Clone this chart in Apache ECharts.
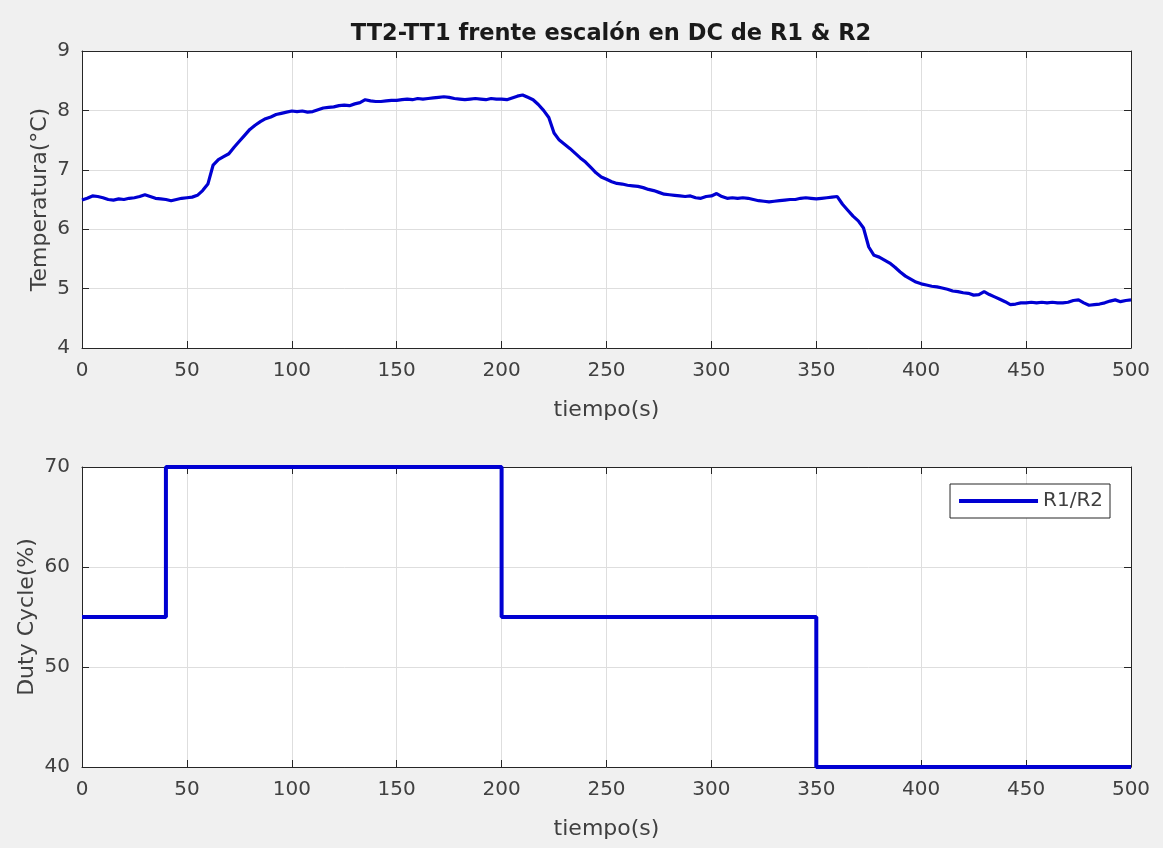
<!DOCTYPE html>
<html>
<head>
<meta charset="utf-8">
<script src="https://cdn.jsdelivr.net/npm/echarts@6/dist/echarts.min.js"></script>
<style>
  html, body { margin: 0; padding: 0; background: #f0f0f0; }
  #chart { width: 1163px; height: 848px; }
</style>
</head>
<body>
<div id="chart"></div>
<script>
// TT2-TT1 temperature difference, sampled every 2.5 s from 0 to 500 s
const pasoMuestreo = 2.5;
const tt2tt1 = [
  6.49, 6.52, 6.56, 6.55, 6.53, 6.50, 6.49, 6.51, 6.50, 6.52,
  6.53, 6.55, 6.58, 6.55, 6.52, 6.51, 6.50, 6.48, 6.50, 6.52,
  6.53, 6.54, 6.57, 6.65, 6.76, 7.08, 7.17, 7.22, 7.27, 7.38,
  7.48, 7.58, 7.68, 7.75, 7.81, 7.86, 7.89, 7.93, 7.95, 7.97,
  7.99, 7.98, 7.99, 7.97, 7.98, 8.01, 8.04, 8.05, 8.06, 8.08,
  8.09, 8.08, 8.11, 8.13, 8.18, 8.16, 8.15, 8.15, 8.16, 8.17,
  8.17, 8.18, 8.19, 8.18, 8.20, 8.19, 8.20, 8.21, 8.22, 8.23,
  8.22, 8.20, 8.19, 8.18, 8.19, 8.20, 8.19, 8.18, 8.20, 8.19,
  8.19, 8.18, 8.21, 8.24, 8.26, 8.22, 8.18, 8.10, 8.00, 7.88,
  7.62, 7.50, 7.43, 7.36, 7.28, 7.20, 7.13, 7.04, 6.95, 6.88,
  6.84, 6.80, 6.77, 6.76, 6.74, 6.73, 6.72, 6.70, 6.67, 6.65,
  6.62, 6.59, 6.58, 6.57, 6.56, 6.55, 6.56, 6.53, 6.52, 6.55,
  6.56, 6.60, 6.55, 6.52, 6.53, 6.52, 6.53, 6.52, 6.50, 6.48,
  6.47, 6.46, 6.47, 6.48, 6.49, 6.50, 6.50, 6.52, 6.53, 6.52,
  6.51, 6.52, 6.53, 6.54, 6.55, 6.42, 6.32, 6.22, 6.14, 6.02,
  5.70, 5.56, 5.53, 5.48, 5.43, 5.36, 5.28, 5.21, 5.16, 5.11,
  5.08, 5.06, 5.04, 5.03, 5.01, 4.99, 4.96, 4.95, 4.93, 4.92,
  4.89, 4.90, 4.95, 4.90, 4.86, 4.82, 4.78, 4.73, 4.74, 4.76,
  4.76, 4.77, 4.76, 4.77, 4.76, 4.77, 4.76, 4.76, 4.77, 4.80,
  4.81, 4.76, 4.72, 4.73, 4.74, 4.76, 4.79, 4.81, 4.78, 4.80,
  4.81
];

// Duty cycle steps applied to R1 & R2: change times (s) and the level (%) held from each
const cambiosDC = [0, 40, 200, 350, 500];
const nivelesDC = [55, 70, 55, 40, 40];

const serieTemp = tt2tt1.map((v, i) => [i * pasoMuestreo, v]);
const serieDC = cambiosDC.map((t, i) => [t, nivelesDC[i]]);

const ejeColor = '#262626';
const txtColor = '#404040';
const gridColor = '#dedede';
const azul = '#0000d2';
const fuente = '"DejaVu Sans", Arial, sans-serif';

function ejeX(grid, pos, conEtiquetas) {
  return {
    type: 'value', gridIndex: grid, position: pos,
    min: 0, max: 500, interval: 50,
    name: conEtiquetas ? 'tiempo(s)' : '',
    nameLocation: 'middle', nameGap: 51,
    nameTextStyle: { color: txtColor, fontSize: 22, fontFamily: fuente },
    axisLine: { show: true, onZero: false, lineStyle: { color: ejeColor, width: 1 } },
    axisTick: { show: true, inside: true, length: 7, lineStyle: { color: ejeColor } },
    axisLabel: { show: conEtiquetas, margin: 13, color: txtColor, fontSize: 20, fontFamily: fuente },
    splitLine: { show: conEtiquetas, lineStyle: { color: gridColor, width: 1 } }
  };
}

function ejeY(grid, pos, min, max, step, nombre, gap, conEtiquetas) {
  return {
    type: 'value', gridIndex: grid, position: pos,
    min: min, max: max, interval: step,
    name: nombre, nameLocation: 'middle', nameGap: gap, nameMoveOverlap: false,
    nameTextStyle: { color: txtColor, fontSize: 22, fontFamily: fuente },
    axisLine: { show: true, onZero: false, lineStyle: { color: ejeColor, width: 1 } },
    axisTick: { show: true, inside: true, length: 7, lineStyle: { color: ejeColor } },
    axisLabel: { show: conEtiquetas, margin: 12, color: txtColor, fontSize: 20, fontFamily: fuente },
    splitLine: { show: conEtiquetas, lineStyle: { color: gridColor, width: 1 } }
  };
}

const chart = echarts.init(document.getElementById('chart'), null, { renderer: 'canvas' });
chart.setOption({
  backgroundColor: '#f0f0f0',
  animation: false,
  title: {
    text: 'TT2-TT1 frente escalón en DC de R1 & R2',
    left: 606, top: 18, textAlign: 'center',
    textStyle: { color: '#1a1a1a', fontSize: 22.5, fontWeight: 'bold', fontFamily: fuente }
  },
  grid: [
    { left: 82, top: 51, width: 1049, height: 297, show: true, backgroundColor: '#ffffff', borderWidth: 0 },
    { left: 82, top: 467, width: 1049, height: 300, show: true, backgroundColor: '#ffffff', borderWidth: 0 }
  ],
  xAxis: [
    ejeX(0, 'bottom', true), ejeX(0, 'top', false),
    ejeX(1, 'bottom', true), ejeX(1, 'top', false)
  ],
  yAxis: [
    ejeY(0, 'left', 4, 9, 1, 'Temperatura(°C)', 31, true),
    ejeY(0, 'right', 4, 9, 1, '', 0, false),
    ejeY(1, 'left', 40, 70, 10, 'Duty Cycle(%)', 44, true),
    ejeY(1, 'right', 40, 70, 10, '', 0, false)
  ],
  legend: {
    data: ['R1/R2'],
    right: 53, top: 484,
    orient: 'horizontal',
    backgroundColor: '#ffffff',
    borderColor: ejeColor, borderWidth: 1, borderRadius: 0,
    padding: [7, 7, 7, 9],
    icon: 'rect', itemWidth: 79, itemHeight: 4,
    textStyle: { color: txtColor, fontSize: 20, fontFamily: fuente }
  },
  series: [
    {
      name: 'TT2-TT1', type: 'line', xAxisIndex: 0, yAxisIndex: 0,
      data: serieTemp, showSymbol: false, symbol: 'none', clip: true,
      lineStyle: { color: azul, width: 3.2 },
      itemStyle: { color: azul }
    },
    {
      name: 'R1/R2', type: 'line', xAxisIndex: 2, yAxisIndex: 2,
      data: serieDC, step: 'end', showSymbol: false, symbol: 'none', clip: false,
      lineStyle: { color: azul, width: 4 },
      itemStyle: { color: azul }
    }
  ]
});
</script>
</body>
</html>
